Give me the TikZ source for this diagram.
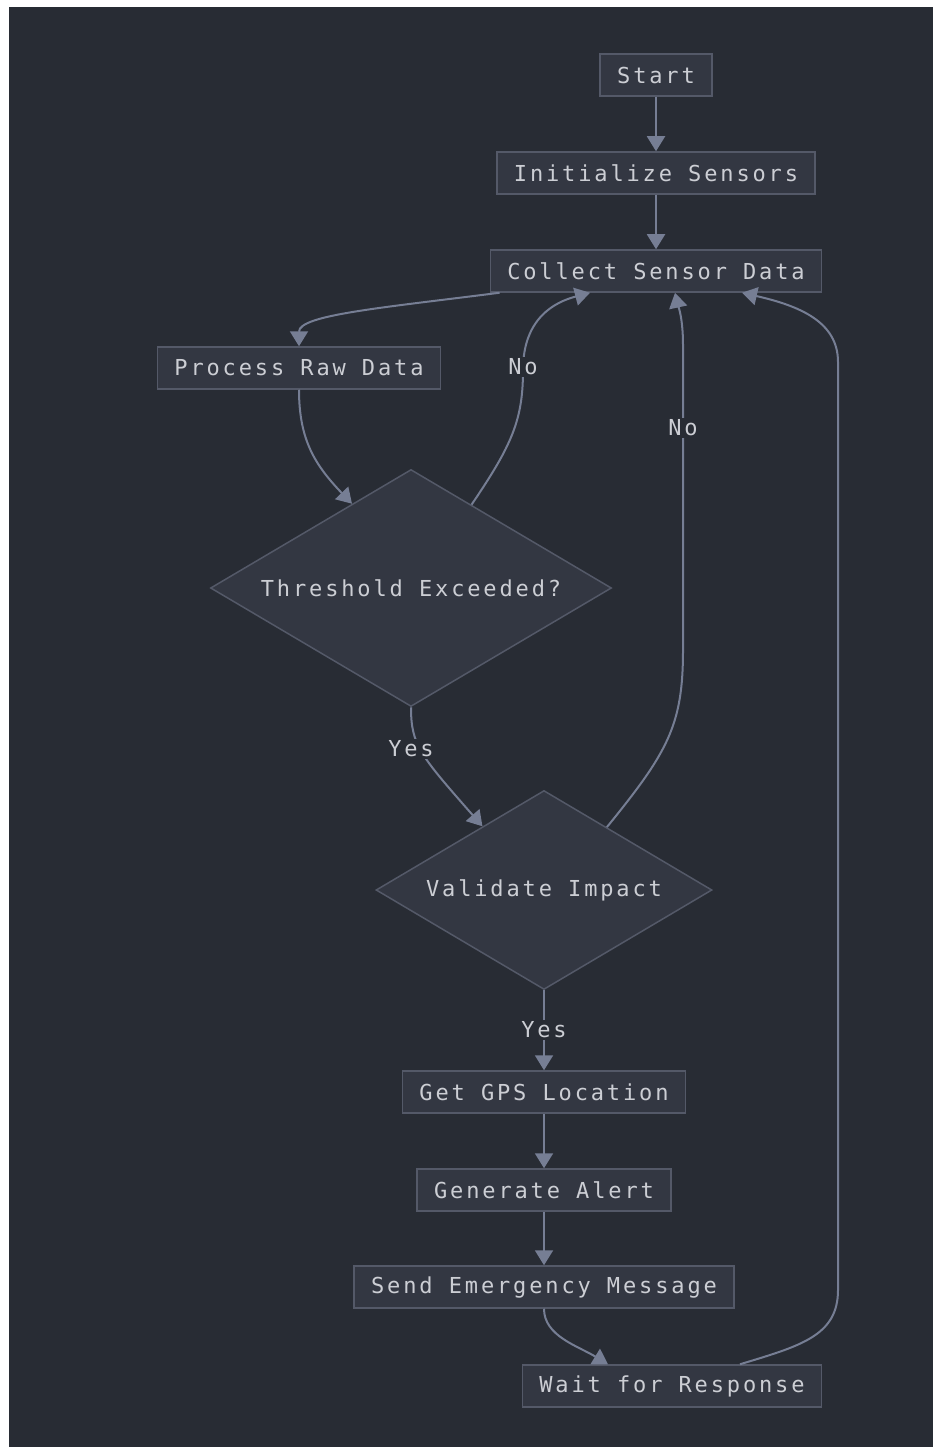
\documentclass[tikz,border=0pt]{standalone}
\usepackage{fontspec}
\usepackage{tikz}
\usetikzlibrary{shapes.geometric, arrows.meta}
\newfontfamily\flowfont[LetterSpace=13]{DejaVu Sans Mono}
\definecolor{canvas}{RGB}{40, 44, 52}
\definecolor{boxfill}{RGB}{51, 55, 66}
\definecolor{boxline}{RGB}{84, 89, 104}
\definecolor{wire}{RGB}{118, 126, 148}
\definecolor{ink}{RGB}{204, 206, 212}

\begin{document}
\begin{tikzpicture}[x=1pt, y=-1pt,
    stepbox/.style={draw=boxline, fill=boxfill, line width=1.5, text=ink,
      font=\flowfont\fontsize{22}{26}\selectfont, minimum height=42, inner xsep=17},
    choice/.style={diamond, aspect=1.7, draw=boxline, fill=boxfill, line width=1.5, text=ink,
      font=\flowfont\fontsize{22}{26}\selectfont, inner sep=0},
    flow/.style={draw=wire, line width=2, -{Triangle[width=18pt, length=15pt]}},
    answer/.style={fill=canvas, text=ink, inner sep=2,
      font=\flowfont\fontsize{22}{26}\selectfont}]

  % Canvas
  \fill[white] (0, 0) rectangle (933, 1447);
  \fill[canvas] (9, 7) rectangle (933, 1447);

  % Steps
  \node[stepbox] (start)    at (656, 75)   {Start};
  \node[stepbox] (init)     at (656, 173)  {Initialize Sensors};
  \node[stepbox] (collect)  at (656, 271)  {Collect Sensor Data};
  \node[stepbox] (process)  at (299, 368)  {Process Raw Data};
  \node[choice, minimum width=401, minimum height=237] (threshold) at (411, 588) {Threshold Exceeded?};
  \node[choice, minimum width=336, minimum height=199] (validate)  at (544, 890) {Validate Impact};
  \node[stepbox] (gps)      at (544, 1092) {Get GPS Location};
  \node[stepbox] (alert)    at (544, 1190) {Generate Alert};
  \node[stepbox] (send)     at (544, 1287) {Send Emergency Message};
  \node[stepbox] (wait)     at (672, 1386) {Wait for Response};

  % Straight runs
  \foreach \a/\b in {start/init, init/collect, validate/gps, gps/alert, alert/send} {
    \draw[flow] (\a.south) -- (\b.north);
  }

  % Curved runs
  \draw[flow] ([xshift=10pt]collect.south west)
    .. controls (380, 308) and (299, 315) .. (process.north);
  \draw[flow] (process.south)
    .. controls (299, 440) and (315, 465) .. (threshold.125);
  \draw[flow] (threshold.54)
    .. controls (512, 445) and (523, 420) .. (523, 370)
    .. controls (523, 318) and (555, 302) .. ([xshift=-66pt]collect.south);
  \draw[flow] (threshold.south)
    .. controls (411, 745) and (420, 755) .. (validate.134);
  \draw[flow] (validate.45)
    .. controls (668, 752) and (683, 725) .. (683, 650) -- (683, 345)
    .. controls (683, 315) and (677, 302) .. ([xshift=19pt]collect.south);
  \draw[flow] (send.south)
    .. controls (544, 1336) and (578, 1346) .. ([xshift=-64pt]wait.north);
  \draw[flow] ([xshift=68pt]wait.north)
    .. controls (800, 1346) and (838, 1336) .. (838, 1290) -- (838, 362)
    .. controls (838, 322) and (800, 306) .. ([xshift=86pt]collect.south);

  % Answers
  \node[answer] (no1)  at (523, 367)  {No};
  \node[answer] (no2)  at (683, 428)  {No};
  \node[answer] (yes1) at (411, 749)  {Yes};
  \node[answer] (yes2) at (544, 1030) {Yes};

\end{tikzpicture}
\end{document}
